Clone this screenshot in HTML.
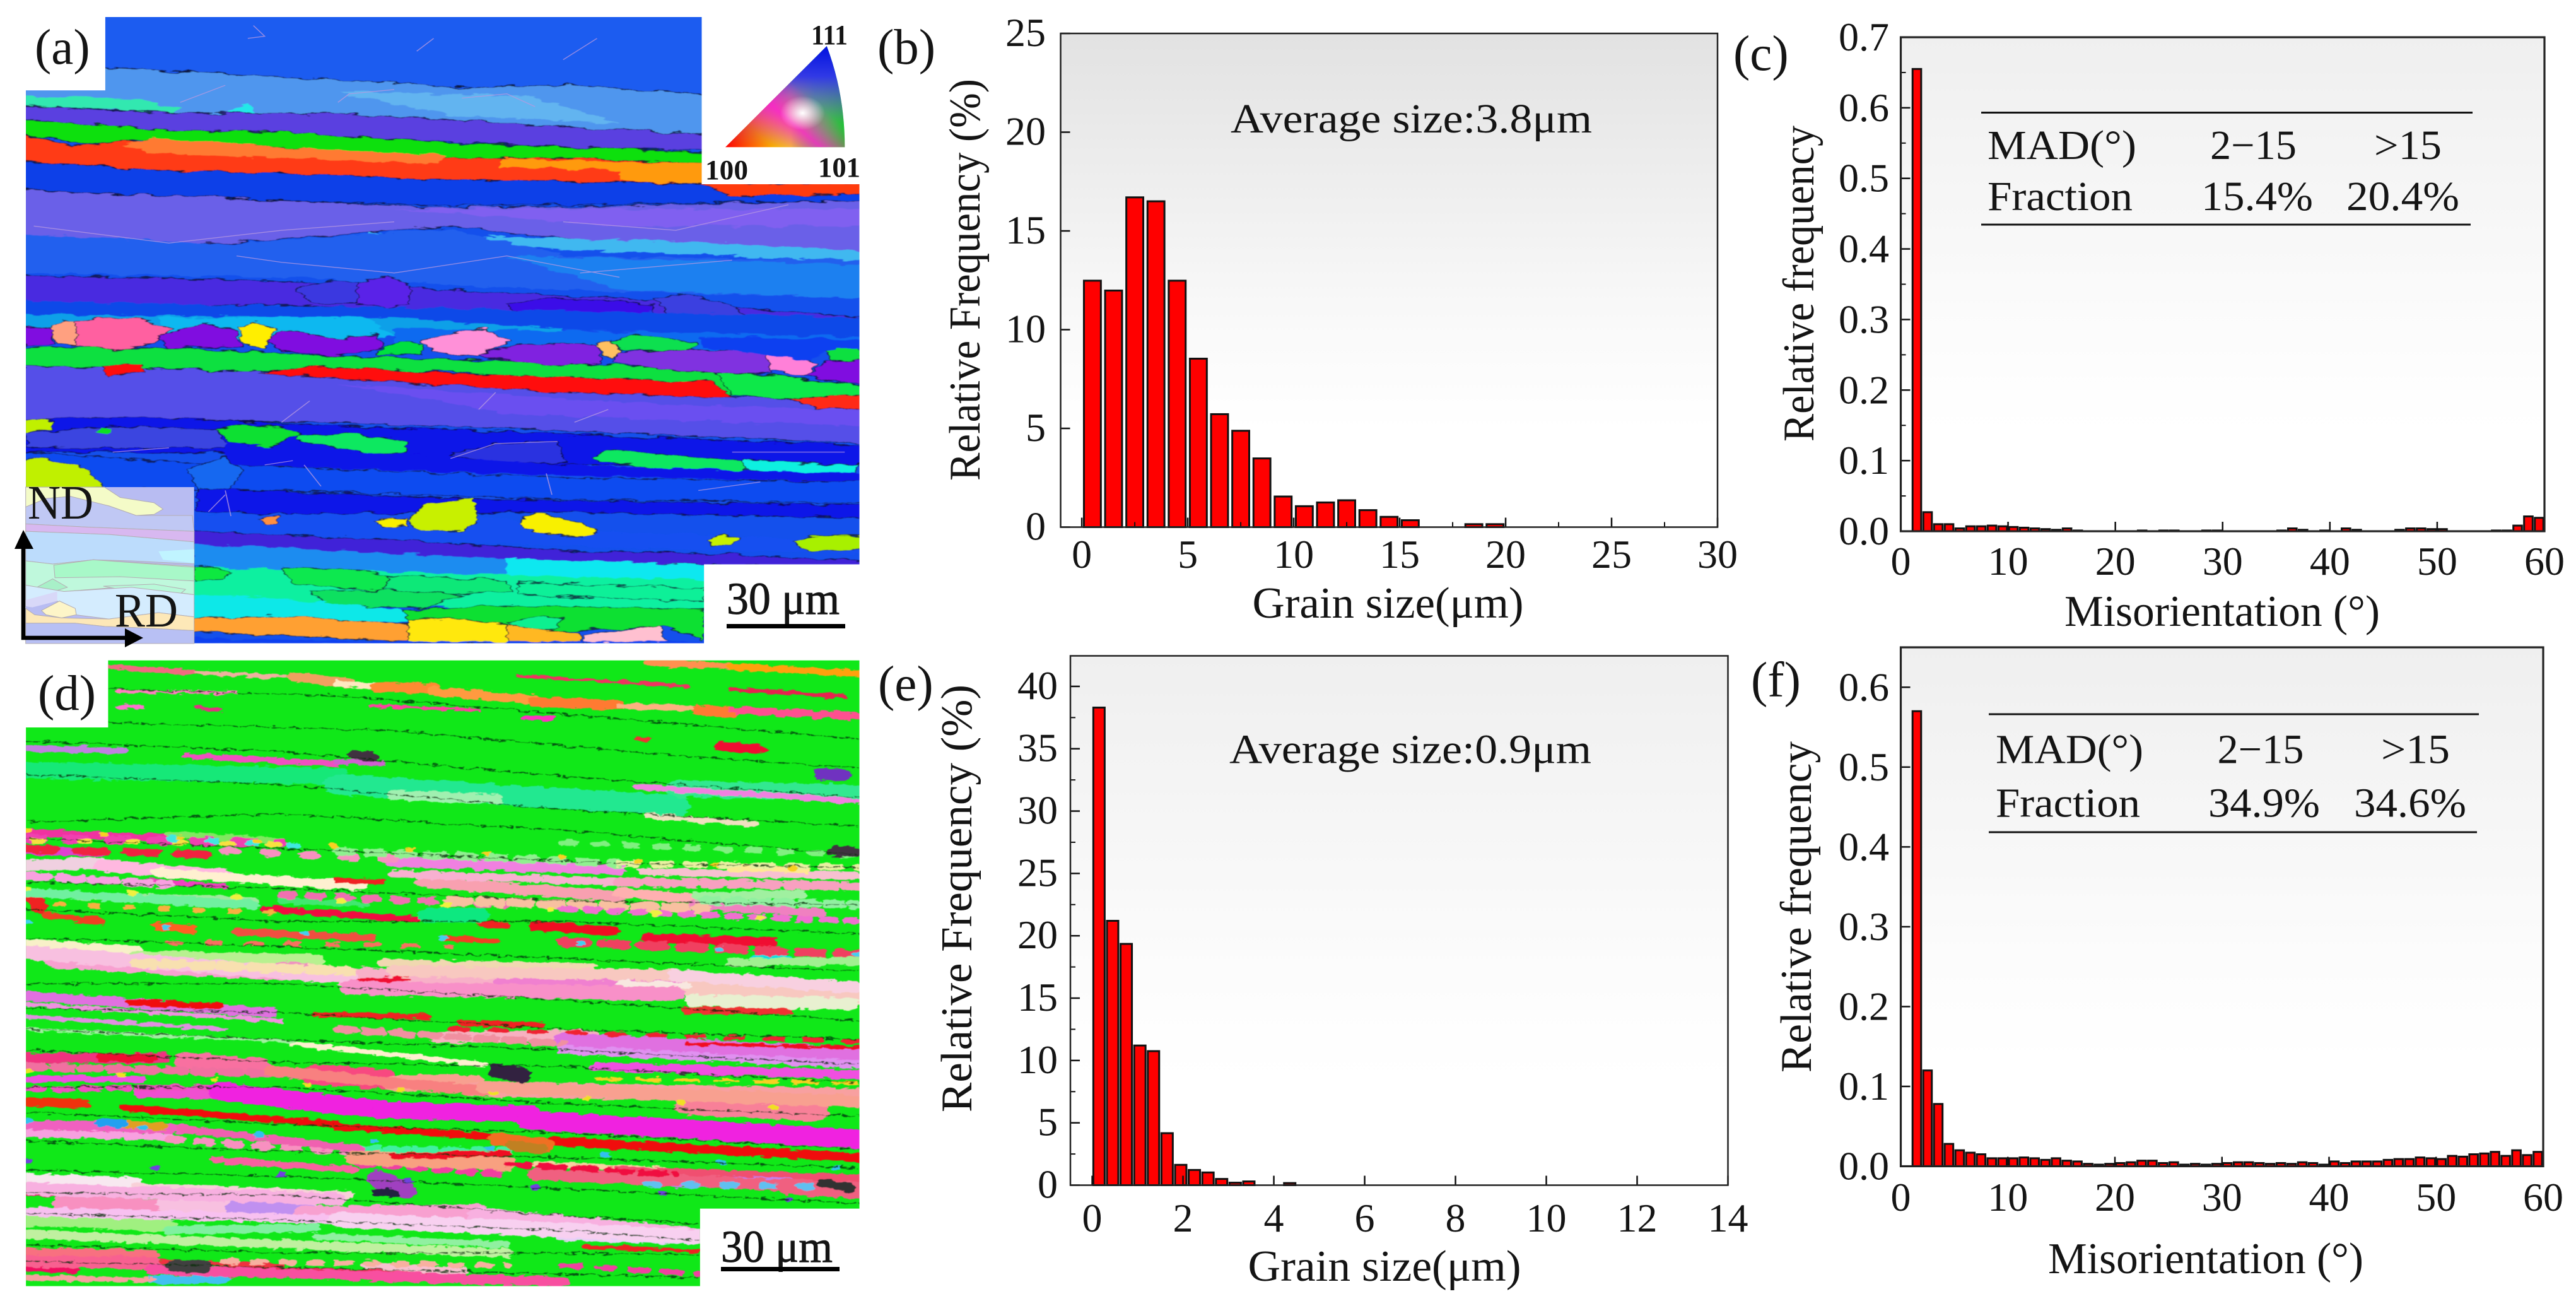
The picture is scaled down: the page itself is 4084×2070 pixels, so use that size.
<!DOCTYPE html>
<html lang="en">
<head>
<meta charset="utf-8">
<title>EBSD maps with grain size and misorientation histograms</title>
<style>
html,body{margin:0;padding:0;background:#fff;}
body{width:4084px;height:2070px;overflow:hidden;}
#figure{display:block;position:absolute;left:0;top:0;}
text{font-family:"Liberation Serif",serif;fill:#141414;}
.grains polygon{stroke:#0a1030;stroke-width:2;stroke-opacity:.75;}
.strips path{fill:none;stroke-linecap:round;}
.bounds path{fill:none;stroke:#06300a;stroke-width:2.4;stroke-opacity:.8;stroke-dasharray:26 3;}
.lowangle path{fill:none;stroke:#b89ae0;stroke-width:2;stroke-opacity:.75;}
.pale polygon{stroke:#b4aeb4;stroke-width:3;}
</style>
</head>
<body>
<svg id="figure" xmlns="http://www.w3.org/2000/svg" width="4084" height="2070" viewBox="0 0 4084 2070">
<defs>
<linearGradient id="bgB" x1="0" y1="0" x2="0" y2="1"><stop offset="0" stop-color="#e2e2e2"/><stop offset=".55" stop-color="#f8f8f8"/><stop offset=".8" stop-color="#fff"/></linearGradient>
<linearGradient id="bgC" x1="0" y1="0" x2="0" y2="1"><stop offset="0" stop-color="#efefef"/><stop offset=".6" stop-color="#fcfcfc"/><stop offset=".8" stop-color="#fff"/></linearGradient>
<linearGradient id="ipfBase" x1="0" y1="0" x2="1" y2="0"><stop offset="0" stop-color="#ff0000"/><stop offset=".3" stop-color="#ff8000"/><stop offset=".55" stop-color="#f0f000"/><stop offset=".75" stop-color="#40ee20"/><stop offset="1" stop-color="#00e000"/></linearGradient>
<linearGradient id="ipfBlue" x1="0" y1="0" x2="0" y2="1"><stop offset="0" stop-color="#0010e0"/><stop offset=".3" stop-color="#3030f0" stop-opacity=".95"/><stop offset=".75" stop-color="#a040ff" stop-opacity=".25"/><stop offset="1" stop-color="#40a0ff" stop-opacity="0"/></linearGradient>
<linearGradient id="ipfMagenta" x1="0" y1="1" x2="1" y2="0"><stop offset=".2" stop-color="#ff20c0" stop-opacity="0"/><stop offset=".4" stop-color="#ff20d0" stop-opacity=".85"/><stop offset=".6" stop-color="#ff20d0" stop-opacity="0"/></linearGradient>
<radialGradient id="ipfWhite" gradientUnits="userSpaceOnUse" cx="1425" cy="265" r="40"><stop offset="0" stop-color="#fff"/><stop offset="1" stop-color="#fff" stop-opacity="0"/></radialGradient>
<clipPath id="clipA"><polygon points="187,40 1246,40 1246,432 1526,432 1526,1323 1250,1323 1250,1508 46,1508 46,212 187,212"/></clipPath>
<clipPath id="clipD"><polygon points="192,10 1526,10 1526,1333 1243,1333 1243,1520 46,1520 46,172 192,172"/></clipPath>
<filter id="rough" x="-5%" y="-5%" width="110%" height="110%"><feTurbulence type="fractalNoise" baseFrequency="0.025 0.09" numOctaves="3" seed="7" result="n"/><feDisplacementMap in="SourceGraphic" in2="n" scale="16" xChannelSelector="R" yChannelSelector="G"/><feGaussianBlur stdDeviation="0.9"/></filter>
<filter id="roughD" x="-5%" y="-5%" width="110%" height="110%"><feTurbulence type="fractalNoise" baseFrequency="0.05 0.12" numOctaves="3" seed="11" result="n"/><feDisplacementMap in="SourceGraphic" in2="n" scale="14" xChannelSelector="R" yChannelSelector="G"/><feGaussianBlur stdDeviation="0.7"/></filter>
</defs>

<!-- Panel (a) IPF map -->
<svg x="0" y="0" width="1400" height="1060" viewBox="0 0 1568 1568" preserveAspectRatio="none">
<g clip-path="url(#clipA)">
<rect x="40" y="30" width="1500" height="1490" fill="#1450ec"/>
<g class="grains" filter="url(#rough)">
<polygon fill="#1a5cf0" points="150,30 1260,30 1260,222 1000,200 830,205 500,180 150,155"/>
<polygon fill="#4f96ee" points="40,210 150,155 500,180 830,205 1000,200 1260,222 1260,320 1090,310 600,270 300,265 40,245"/>
<polygon fill="#62b4f0" style="stroke:none" points="600,215 940,225 1100,290 800,270"/>
<polygon fill="#30e8b0" style="stroke:none" points="40,225 240,232 320,255 300,270 200,255 40,250"/>
<polygon fill="#20e8e8" style="stroke:none" points="405,262 440,242 460,272 420,272"/>
<polygon fill="#5a40e0" points="40,248 300,265 600,265 1090,305 1260,315 1260,352 1100,350 600,320 300,305 40,285"/>
<polygon fill="#10e010" points="40,282 150,290 300,305 500,310 800,335 1260,358 1260,385 1100,380 800,375 500,345 270,325 150,338 40,315"/>
<polygon fill="#ff3a18" points="40,315 130,345 220,330 500,345 800,372 1000,370 1260,385 1260,432 1000,425 750,420 500,405 280,400 130,385 40,378"/>
<polygon fill="#ff7a30" style="stroke:none" points="215,340 270,322 500,345 790,365 780,385 500,370 260,358"/>
<polygon fill="#ff9a10" style="stroke:none" points="890,372 1260,385 1260,432 1100,425 1100,400 890,390"/>
<polygon fill="#0e40e8" points="40,380 130,385 280,400 500,405 750,420 1000,425 1240,432 1540,432 1540,470 1000,480 750,480 500,470 40,445"/>
<polygon fill="#ff3a10" points="1240,430 1540,430 1540,455 1400,458 1300,458"/>
<polygon fill="#6a60e8" points="40,445 500,470 750,485 1000,485 1540,470 1540,610 1300,590 1000,560 800,530 400,570 40,570"/>
<polygon fill="#8060f0" style="stroke:none" points="700,490 1540,490 1540,530 1100,530"/>
<polygon fill="#40b8f0" style="stroke:none" points="650,545 1000,560 1300,570 1540,590 1540,615 1300,600 1000,585 650,565"/>
<polygon fill="#2060ee" style="stroke:none" points="40,550 400,572 800,535 1000,600 1540,610 1540,700 1000,680 500,650 40,640"/>
<polygon fill="#1a80f0" style="stroke:none" points="900,600 1540,620 1540,700 1100,680"/>
<polygon fill="#4a2ce0" points="40,645 520,660 1100,700 1540,745 1540,770 1100,745 500,715 40,715"/>
<polygon fill="#3a38e0" points="525,680 580,658 640,660 640,712 560,712"/>
<polygon fill="#5a20e8" points="635,660 690,648 730,670 725,715 690,722 635,712"/>
<polygon fill="#3a10e8" points="900,712 980,698 1160,712 1160,740 1060,745 910,725"/>
<polygon fill="#3a40e0" points="1160,700 1210,688 1290,710 1320,738 1260,758 1190,745"/>
<polygon fill="#0e48e8" style="stroke:none" points="40,705 400,715 900,725 1540,745 1540,790 900,770 40,745"/>
<polygon fill="#10a0e8" style="stroke:none" points="40,735 280,740 700,745 1000,770 1000,790 280,790 40,770"/>
<polygon fill="#10b8f0" style="stroke:none" points="280,745 650,742 700,790 500,800 300,790"/>
<polygon fill="#0f6af0" style="stroke:none" points="700,770 1200,780 1540,790 1540,825 1200,820 700,810"/>
<polygon fill="#10e040" points="40,815 300,815 600,835 1000,850 1300,870 1540,905 1540,925 1300,925 800,870 460,870 40,860"/>
<polygon fill="#5550e8" points="40,858 460,870 800,880 1300,930 1540,930 1540,1040 1000,1010 600,990 40,985"/>
<polygon fill="#6a50f0" style="stroke:none" points="600,900 1200,950 1540,960 1540,1000 900,970"/>
<polygon fill="#ff1010" points="460,875 560,858 800,875 1260,895 1305,932 1000,920 700,895"/>
<polygon fill="#ff1010" points="180,860 255,852 258,872 190,882"/>
<polygon fill="#ff2a18" points="1395,935 1430,920 1540,925 1540,960 1450,955"/>
<polygon fill="#10e848" points="1270,870 1400,885 1540,905 1540,925 1400,935 1300,925"/>
<polygon fill="#8010e0" points="40,765 95,770 95,805 40,810"/>
<polygon fill="#ffa080" points="90,770 115,750 140,750 140,810 100,805"/>
<polygon fill="#ff60a0" points="135,750 240,745 305,772 275,805 205,822 135,810"/>
<polygon fill="#8010e0" points="280,790 360,758 420,775 430,812 300,815"/>
<polygon fill="#ffee00" points="425,770 450,758 490,770 470,818 432,805"/>
<polygon fill="#8010e0" points="475,800 500,772 600,795 670,785 682,815 600,835 500,822"/>
<polygon fill="#00e040" points="670,825 710,800 750,805 750,830 670,832"/>
<polygon fill="#ff90d8" points="745,795 860,770 905,800 850,835 770,825"/>
<polygon fill="#8020e0" points="850,830 920,805 1060,808 1070,850 1000,858 860,840"/>
<polygon fill="#ffc060" points="1060,810 1085,798 1102,820 1088,840 1070,830"/>
<polygon fill="#10e050" points="1085,800 1120,782 1240,805 1225,825 1105,820"/>
<polygon fill="#8030e0" points="1095,825 1240,820 1360,825 1370,875 1200,870 1090,850"/>
<polygon fill="#ff80d8" points="1360,830 1420,835 1450,855 1430,882 1370,870"/>
<polygon fill="#8010e0" points="1430,880 1470,848 1540,838 1540,900 1490,895"/>
<polygon fill="#10e040" points="1470,820 1525,815 1530,842 1475,845"/>
<polygon fill="#1040f0" style="stroke:none" points="1240,790 1540,795 1540,820 1470,820 1440,845 1250,815"/>
<polygon fill="#0a12e8" points="40,990 100,980 280,980 600,998 1000,1018 1540,1045 1540,1090 1000,1090 400,1060 40,1060"/>
<polygon fill="#3a44e0" points="46,1015 180,1000 385,1005 405,1050 180,1050 46,1048"/>
<polygon fill="#c0f000" points="40,985 95,985 90,1005 40,1018"/>
<polygon fill="#10e030" points="382,1005 440,995 505,1000 532,1018 480,1048 410,1038"/>
<polygon fill="#10e860" points="530,1020 620,1015 720,1035 722,1060 650,1062 530,1030"/>
<polygon fill="#10e020" style="stroke:none" points="180,1000 200,1005 190,1018 172,1010"/>
<polygon fill="#2a30e0" points="800,1065 880,1040 990,1035 1005,1085 870,1085"/>
<polygon fill="#10e860" points="1055,1070 1080,1055 1320,1080 1320,1105 1215,1105 1060,1080"/>
<polygon fill="#10f0e0" points="1320,1075 1400,1085 1525,1090 1515,1112 1420,1110 1320,1100"/>
<polygon fill="#0e4cf0" points="40,1060 400,1090 1000,1120 1540,1130 1540,1180 1000,1170 500,1150 40,1145"/>
<polygon fill="#0a12e8" style="stroke:none" points="400,1040 1000,1090 1540,1110 1540,1130 1000,1115 400,1090"/>
<polygon fill="#0a14e8" points="350,1145 850,1170 1540,1185 1540,1215 1000,1200 500,1205 350,1200"/>
<polygon fill="#1450f0" style="stroke:none" points="350,1205 800,1205 1060,1245 1540,1270 1540,1300 1000,1280 350,1250"/>
<polygon fill="#1868f0" points="335,1100 400,1070 432,1105 405,1150 350,1145"/>
<polygon fill="#c0f000" points="40,1080 70,1072 150,1095 185,1145 40,1145"/>
<polygon fill="#c8f000" points="722,1220 760,1180 840,1168 850,1220 820,1245 750,1245"/>
<polygon fill="#f8f000" points="925,1215 950,1203 1030,1225 1058,1245 1040,1260 960,1250 930,1240"/>
<polygon fill="#c8f000" points="1255,1265 1285,1252 1315,1262 1295,1280 1265,1278"/>
<polygon fill="#a8f000" points="1410,1272 1440,1255 1540,1255 1540,1285 1440,1295"/>
<polygon fill="#ff9040" points="460,1215 495,1210 490,1228 470,1228"/>
<polygon fill="#f8f000" points="665,1220 720,1215 725,1233 680,1236"/>
<polygon fill="#4020d8" points="340,1245 700,1265 1000,1290 1300,1300 1540,1315 1540,1330 1300,1325 900,1315 600,1295 340,1280"/>
<polygon fill="#1a8cf0" style="stroke:none" points="340,1275 900,1310 1270,1330 1270,1370 340,1340"/>
<polygon fill="#10e8f0" style="stroke:none" points="900,1310 1270,1325 1270,1380 900,1360"/>
<polygon fill="#10f0a0" style="stroke:none" points="340,1330 1270,1360 1270,1450 340,1400"/>
<polygon fill="#10e840" points="346,1325 410,1340 395,1360 346,1362"/>
<polygon fill="#10e850" points="500,1330 620,1335 690,1350 680,1385 520,1370"/>
<polygon fill="#10e878" points="690,1350 900,1360 910,1385 750,1395 680,1380"/>
<polygon fill="#10f098" points="920,1365 1250,1380 1250,1410 920,1395"/>
<polygon fill="#10e060" points="550,1385 720,1385 820,1395 760,1425 580,1420"/>
<polygon fill="#10e8e8" style="stroke:none" points="340,1395 460,1400 720,1430 730,1460 340,1450"/>
<polygon fill="#10e030" points="715,1430 900,1420 1250,1430 1250,1500 1180,1470 1000,1480 730,1460"/>
<polygon fill="#10f090" points="900,1460 960,1445 1000,1450 985,1475 920,1475"/>
<polygon fill="#ffa030" points="340,1450 490,1445 730,1465 730,1505 500,1490 340,1480"/>
<polygon fill="#ffe810" points="725,1455 800,1450 900,1465 1030,1490 1030,1510 725,1510"/>
<polygon fill="#ffb820" points="900,1465 1030,1485 1030,1510 900,1510"/>
<polygon fill="#ffc0d0" points="1035,1490 1100,1478 1170,1470 1188,1510 1035,1510"/>
<polygon fill="#0e40f0" style="stroke:none" points="40,1490 730,1505 1250,1505 1250,1510 40,1510"/>
</g>
<g class="lowangle">
<path d="M450 60 470 85 440 90 M770 90 740 120 M1000 140 1060 90 M600 240 620 220 700 210 M320 240 400 200 M820 230 900 220 950 250 M60 530 300 570 500 540 700 520 M1000 520 1200 540 1400 480 M420 600 500 615 700 640 900 600 1100 650 M1030 640 1300 610 M500 990 550 940 M850 960 880 920 M1020 990 1080 960 M470 1090 520 1080 M540 1090 570 1140 M970 1110 980 1160 M200 1060 300 1050 M1240 1150 1350 1130 M800 1075 880 1040 990 1035 M400 1160 370 1200 M400 1150 410 1210 M1300 1060 1500 1060"/>
</g>
</g>
<g>
<path d="M1288 345 L1468 108 Q1500 220 1500 345 Z" fill="url(#ipfBase)"/>
<path d="M1288 345 L1468 108 Q1500 220 1500 345 Z" fill="url(#ipfBlue)"/>
<path d="M1288 345 L1468 108 Q1500 220 1500 345 Z" fill="url(#ipfMagenta)"/>
<path d="M1288 345 L1468 108 Q1500 220 1500 345 Z" fill="url(#ipfWhite)"/>
</g>
</svg>

<!-- Translucent key overlay, drawn as its washed-out appearance -->
<g class="pale" transform="translate(30 760) scale(.357 .335)">
<rect x="30" y="36" width="748" height="740" fill="#b8bcf2"/>
<polygon fill="#f4fbc8" points="30,36 380,36 450,85 600,110 640,140 600,165 520,170 400,125 280,100 230,80 120,90 30,130"/>
<polygon fill="#c0c8f4" points="30,130 120,90 230,80 400,125 520,170 770,170 778,245 300,225 30,210"/>
<polygon fill="#d8b8f0" points="30,210 300,225 778,245 778,295 400,260 30,245"/>
<polygon fill="#bcdcfc" points="30,245 400,260 778,295 778,400 500,385 330,380 150,400 30,385"/>
<polygon fill="#c0f4ff" style="stroke:none" points="620,340 778,330 778,395 640,380"/>
<polygon fill="#bff8dc" points="30,385 150,400 330,380 778,410 778,545 500,505 200,530 100,520 30,500"/>
<polygon fill="#a8f8c8" points="155,405 330,380 778,415 778,480 450,460 160,465"/>
<polygon fill="#a8f0c8" points="80,510 150,470 215,510 170,525 100,525"/>
<polygon fill="#b8f8d8" points="375,505 600,495 740,520 700,555 500,530"/>
<polygon fill="#d4ecfe" points="30,500 200,530 500,510 778,545 778,650 620,630 400,660 250,640 170,575 30,600"/>
<polygon fill="#d8d8f8" style="stroke:none" points="30,570 170,530 170,575 60,605 30,600"/>
<polygon fill="#fde8b8" points="30,610 70,640 190,655 400,660 620,630 778,650 778,715 500,700 380,695 250,680 30,680"/>
<polygon fill="#fdf5c8" points="100,620 180,575 250,610 255,640 190,655 120,640"/>
<polygon fill="#b8c0f4" points="30,680 250,680 380,695 500,700 778,715 778,776 30,776"/>
</g>

<text x="1286" y="70" font-size="44" font-weight="bold" textLength="58" lengthAdjust="spacingAndGlyphs">111</text>
<text x="1118" y="284" font-size="44" font-weight="bold" textLength="68" lengthAdjust="spacingAndGlyphs">100</text>
<text x="1297" y="280" font-size="44" font-weight="bold" textLength="67" lengthAdjust="spacingAndGlyphs">101</text>
<text x="55" y="101" font-size="79">(a)</text>
<text x="44" y="822" font-size="76" fill="#000" textLength="104" lengthAdjust="spacingAndGlyphs">ND</text>
<text x="182" y="993" font-size="76" fill="#000" textLength="100" lengthAdjust="spacingAndGlyphs">RD</text>
<g>
<path d="M37 868 V1011 H200 M34 1011 H37" fill="none" stroke="#000" stroke-width="6.5"/>
<polygon points="37,840 23,870 53,870" fill="#000"/>
<polygon points="227,1011 198,996 198,1026" fill="#000"/>
</g>
<text x="1152" y="973" font-size="72" stroke="#141414" stroke-width=".9" textLength="179" lengthAdjust="spacingAndGlyphs">30 μm</text>
<rect x="1152" y="989" width="188" height="7" fill="#000"/>

<!-- Panel (d) IPF map -->
<svg x="0" y="1040" width="1400" height="1030" viewBox="0 0 1568 1568" preserveAspectRatio="none">
<g clip-path="url(#clipD)">
<rect x="40" y="5" width="1500" height="1520" fill="#10e818"/>
<g filter="url(#roughD)">
<g class="strips">
<path stroke="#18e878" stroke-width="40" d="M46 275 600 290"/>
<path stroke="#20e890" stroke-width="50" d="M600 310 1200 360"/>
<path stroke="#30e890" stroke-width="40" d="M1200 320 1526 330"/>
<path stroke="#f06a80" stroke-width="12" d="M192 25 350 40"/>
<path stroke="#f0b0a0" stroke-width="10" d="M350 40 520 50"/>
<path stroke="#f0a060" stroke-width="22" d="M520 50 620 65"/>
<path stroke="#ffe8c0" stroke-width="16" d="M600 65 670 72"/>
<path stroke="#ff8a30" stroke-width="24" d="M670 75 770 78"/>
<path stroke="#ff9a40" stroke-width="22" d="M770 85 950 105"/>
<path stroke="#ff7a30" stroke-width="24" d="M950 110 1100 118"/>
<path stroke="#ffb080" stroke-width="14" d="M1100 120 1230 125"/>
<path stroke="#ff7a30" stroke-width="26" d="M1240 130 1300 135"/>
<path stroke="#ff5090" stroke-width="18" d="M1300 130 1526 145"/>
<path stroke="#ff9050" stroke-width="16" d="M1150 15 1300 25"/>
<path stroke="#ffa010" stroke-width="16" d="M1300 25 1526 42"/>
<path stroke="#f03060" stroke-width="8" d="M920 48 1220 72"/>
<path stroke="#e82050" stroke-width="10" d="M1300 80 1500 97"/>
<path stroke="#ff80c0" stroke-width="8" d="M210 85 420 88"/>
<path stroke="#ff40a0" stroke-width="8" d="M660 120 850 130"/>
<path stroke="#ff70d0" stroke-width="10" d="M210 122 250 122"/>
<path stroke="#e03080" stroke-width="10" d="M350 125 390 130"/>
<path stroke="#ff30c0" stroke-width="12" d="M930 150 980 150"/>
<path stroke="#f03030" stroke-width="12" d="M1130 200 1150 200"/>
<path stroke="#f01030" stroke-width="22" d="M1280 218 1350 225"/>
<path stroke="#7030c0" stroke-width="30" d="M1460 285 1495 288"/>
<path stroke="#c080e0" stroke-width="16" d="M46 222 220 228"/>
<path stroke="#f050c0" stroke-width="14" d="M330 240 600 260"/>
<path stroke="#d060d0" stroke-width="14" d="M600 255 680 258"/>
<path stroke="#f080e0" stroke-width="14" d="M1130 315 1526 350"/>
<path stroke="#a0f0b0" stroke-width="24" d="M700 335 880 345"/>
<path stroke="#f0e0c0" stroke-width="14" d="M1150 385 1340 405"/>
<path stroke="#f030a0" stroke-width="18" d="M46 425 300 440"/>
<path stroke="#80e860" stroke-width="16" d="M300 430 500 445"/>
<path stroke="#e040d0" stroke-width="18" d="M46 470 180 475"/>
<path stroke="#f0d0e0" stroke-width="28" d="M46 505 180 500"/>
<path stroke="#ffb8e0" stroke-width="30" d="M180 505 400 530"/>
<path stroke="#fff0d0" stroke-width="22" d="M280 522 640 555"/>
<path stroke="#f080e0" stroke-width="26" d="M700 495 1100 515"/>
<path stroke="#f8c0d0" stroke-width="18" d="M1140 520 1526 530"/>
<path stroke="#ffe890" stroke-width="18" d="M1300 510 1430 515"/>
<path stroke="#f02020" stroke-width="30" d="M55 575 70 605"/>
<path stroke="#f040c0" stroke-width="12" d="M250 540 400 555"/>
<path stroke="#f02020" stroke-width="12" d="M600 540 680 545"/>
<path stroke="#f8a0b0" stroke-width="26" d="M750 545 1100 580"/>
<path stroke="#ffb0b0" stroke-width="24" d="M1100 570 1230 585"/>
<path stroke="#f080c0" stroke-width="20" d="M1230 600 1460 620"/>
<path stroke="#f01040" stroke-width="16" d="M470 610 740 635"/>
<path stroke="#f04020" stroke-width="16" d="M80 625 180 640"/>
<path stroke="#ff6020" stroke-width="20" d="M280 650 340 660"/>
<path stroke="#f05040" stroke-width="18" d="M420 665 660 680"/>
<path stroke="#f02020" stroke-width="14" d="M850 645 900 650"/>
<path stroke="#f01020" stroke-width="22" d="M950 650 1090 665"/>
<path stroke="#f01030" stroke-width="22" d="M1150 680 1370 690"/>
<path stroke="#f04020" stroke-width="14" d="M790 680 880 688"/>
<path stroke="#10e880" stroke-width="36" d="M760 625 850 625"/>
<path stroke="#a0e8a0" stroke-width="20" d="M140 580 450 590"/>
<path stroke="#40e870" stroke-width="14" d="M500 590 650 600"/>
<path stroke="#a0f0a0" stroke-width="22" d="M1240 580 1420 575"/>
<path stroke="#f8f0c8" stroke-width="24" d="M46 695 240 710"/>
<path stroke="#f8a0d0" stroke-width="46" d="M100 730 500 760"/>
<path stroke="#b8f090" stroke-width="30" d="M240 725 560 735"/>
<path stroke="#f090c0" stroke-width="30" d="M500 750 620 770"/>
<path stroke="#f8b0c8" stroke-width="50" d="M620 775 900 790"/>
<path stroke="#f0d8b0" stroke-width="18" d="M680 740 1050 750"/>
<path stroke="#f080d0" stroke-width="50" d="M900 790 1230 790"/>
<path stroke="#f8c8c0" stroke-width="46" d="M1230 800 1526 820"/>
<path stroke="#f03030" stroke-width="18" d="M1220 855 1400 855"/>
<path stroke="#f8e8e0" stroke-width="16" d="M1100 790 1220 795"/>
<path stroke="#10e0e0" stroke-width="22" d="M1340 730 1395 732"/>
<path stroke="#f01030" stroke-width="14" d="M620 790 720 778"/>
<path stroke="#e070e0" stroke-width="24" d="M46 820 480 860"/>
<path stroke="#f01010" stroke-width="16" d="M230 835 390 845"/>
<path stroke="#e090e0" stroke-width="10" d="M46 870 400 900"/>
<path stroke="#f02020" stroke-width="12" d="M560 865 760 870"/>
<path stroke="#f02020" stroke-width="14" d="M820 885 960 890"/>
<path stroke="#f8b0c0" stroke-width="28" d="M780 920 1050 915"/>
<path stroke="#e070e0" stroke-width="34" d="M1000 925 1526 960"/>
<path stroke="#f01020" stroke-width="8" d="M1220 935 1526 945"/>
<path stroke="#fff0d0" stroke-width="12" d="M520 935 860 985"/>
<path stroke="#f03080" stroke-width="24" d="M46 970 290 970"/>
<path stroke="#f01030" stroke-width="20" d="M180 968 270 970"/>
<path stroke="#f870a0" stroke-width="40" d="M330 975 460 990"/>
<path stroke="#f84880" stroke-width="50" d="M560 1010 680 1020"/>
<path stroke="#f8a090" stroke-width="40" d="M700 1030 840 1030"/>
<path stroke="#f050e0" stroke-width="16" d="M46 1020 250 1020"/>
<path stroke="#f050d0" stroke-width="30" d="M250 1050 390 1055"/>
<path stroke="#f050e0" stroke-width="22" d="M1060 990 1526 1010"/>
<path stroke="#f8a0a0" stroke-width="36" d="M840 1045 1526 1060"/>
<path stroke="#f88098" stroke-width="44" d="M1220 1085 1450 1100"/>
</g>
<g class="strips">
<path stroke="#f040b0" stroke-width="22" stroke-dasharray="30 45" d="M46 440 500 450"/>
<path stroke="#f8e040" stroke-width="14" stroke-dasharray="14 70" d="M60 445 500 455"/>
<path stroke="#40e8e0" stroke-width="14" stroke-dasharray="12 60" d="M300 440 560 460"/>
<path stroke="#f02040" stroke-width="20" stroke-dasharray="50 40" d="M46 465 400 480"/>
<path stroke="#f890c0" stroke-width="18" stroke-dasharray="20 50" d="M400 470 700 490"/>
<path stroke="#90f090" stroke-width="20" stroke-dasharray="24 30" d="M600 470 1100 500"/>
<path stroke="#80f080" stroke-width="14" stroke-dasharray="20 35" d="M1000 450 1526 480"/>
<path stroke="#f8a0e0" stroke-width="20" stroke-dasharray="40 20" d="M46 530 300 550"/>
<path stroke="#f8b0d0" stroke-width="20" stroke-dasharray="30 15" d="M700 525 1100 545"/>
<path stroke="#e8f0a0" stroke-width="16" stroke-dasharray="30 30" d="M1100 500 1526 510"/>
<path stroke="#f8a0c0" stroke-width="22" stroke-dasharray="32 18" d="M1100 545 1526 555"/>
<path stroke="#70f0a0" stroke-width="22" stroke-dasharray="30 14" d="M46 570 450 600"/>
<path stroke="#f8b040" stroke-width="12" stroke-dasharray="12 50" d="M100 600 500 620"/>
<path stroke="#f070b0" stroke-width="18" stroke-dasharray="20 30" d="M500 575 900 600"/>
<path stroke="#f8c0a0" stroke-width="24" stroke-dasharray="30 25" d="M800 590 1250 610"/>
<path stroke="#f070d0" stroke-width="16" stroke-dasharray="18 24" d="M1000 610 1526 640"/>
<path stroke="#90f0a0" stroke-width="20" stroke-dasharray="24 20" d="M1250 590 1526 600"/>
<path stroke="#f04060" stroke-width="22" stroke-dasharray="40 30" d="M1000 690 1526 720"/>
<path stroke="#f87060" stroke-width="12" stroke-dasharray="20 50" d="M300 690 800 700"/>
<path stroke="#a0f090" stroke-width="20" stroke-dasharray="20 15" d="M1300 740 1526 735"/>
<path stroke="#f8c0e0" stroke-width="34" stroke-dasharray="45 8" d="M46 715 620 775"/>
<path stroke="#f8e0b0" stroke-width="24" stroke-dasharray="30 22" d="M240 740 620 760"/>
<path stroke="#f890c8" stroke-width="34" stroke-dasharray="40 10" d="M620 800 1200 815"/>
<path stroke="#f8c8c0" stroke-width="28" stroke-dasharray="32 16" d="M700 760 1200 770"/>
<path stroke="#f8d0e0" stroke-width="28" stroke-dasharray="28 14" d="M1200 770 1526 800"/>
<path stroke="#e8f0d0" stroke-width="30" stroke-dasharray="30 20" d="M1230 830 1526 840"/>
<path stroke="#f090e0" stroke-width="10" d="M46 840 500 880"/>
<path stroke="#f090a0" stroke-width="18" stroke-dasharray="30 20" d="M600 900 1000 935"/>
<path stroke="#a0f0a0" stroke-width="8" d="M46 900 520 930"/>
<path stroke="#f02030" stroke-width="10" stroke-dasharray="30 40" d="M800 900 1526 930"/>
<path stroke="#e090f0" stroke-width="20" stroke-dasharray="30 10" d="M1000 950 1526 985"/>
<path stroke="#f070a0" stroke-width="20" stroke-dasharray="30 20" d="M46 990 560 1010"/>
<path stroke="#f88080" stroke-width="26" stroke-dasharray="36 14" d="M480 1000 860 1050"/>
<path stroke="#f8a090" stroke-width="30" stroke-dasharray="40 8" d="M860 1040 1526 1075"/>
<path stroke="#f050c0" stroke-width="14" stroke-dasharray="30 20" d="M46 1045 400 1040"/>
<path stroke="#f8d020" stroke-width="8" stroke-dasharray="40 30" d="M1060 1020 1526 1030"/>
<path stroke="#f8a0e0" stroke-width="20" stroke-dasharray="22 14" d="M46 1150 300 1160"/>
<path stroke="#f890c0" stroke-width="18" stroke-dasharray="22 30" d="M300 1165 650 1200"/>
<path stroke="#40f0a0" stroke-width="20" stroke-dasharray="30 20" d="M640 1190 900 1195"/>
<path stroke="#f040a0" stroke-width="18" stroke-dasharray="20 25" d="M640 1225 900 1250"/>
</g>
<g class="strips">
<path stroke="#f020e0" stroke-width="44" d="M390 1050 680 1095"/>
<path stroke="#f020e0" stroke-width="40" d="M680 1095 940 1105"/>
<path stroke="#f020e0" stroke-width="46" d="M940 1120 1526 1165"/>
<path stroke="#f01010" stroke-width="16" d="M220 1090 600 1130"/>
<path stroke="#f01010" stroke-width="16" d="M600 1135 880 1160"/>
<path stroke="#f01010" stroke-width="22" d="M980 1170 1526 1210"/>
<path stroke="#f03010" stroke-width="22" d="M46 1075 150 1080"/>
<path stroke="#f060c0" stroke-width="24" d="M46 1130 320 1140"/>
<path stroke="#e0a020" stroke-width="20" d="M220 1130 290 1135"/>
<path stroke="#20a0f0" stroke-width="20" d="M180 1125 215 1128"/>
<path stroke="#f060b0" stroke-width="18" d="M320 1140 640 1190"/>
<path stroke="#f8a080" stroke-width="34" d="M630 1210 900 1225"/>
<path stroke="#f07020" stroke-width="30" d="M880 1165 970 1180"/>
<path stroke="#f01020" stroke-width="14" d="M700 1205 900 1200"/>
<path stroke="#f8d0a0" stroke-width="14" d="M950 1225 1180 1240"/>
<path stroke="#f05070" stroke-width="28" d="M1100 1245 1526 1265"/>
<path stroke="#c080f0" stroke-width="26" d="M1200 1270 1400 1270"/>
<path stroke="#a040c0" stroke-width="40" d="M670 1260 720 1290"/>
<path stroke="#f06080" stroke-width="40" d="M1400 1280 1526 1290"/>
<path stroke="#f860a0" stroke-width="16" d="M380 1215 630 1240"/>
<path stroke="#f06080" stroke-width="28" stroke-dasharray="26 12" d="M950 1250 1526 1285"/>
<path stroke="#60c0f0" stroke-width="16" stroke-dasharray="18 50" d="M1150 1275 1500 1280"/>
<path stroke="#f01040" stroke-width="14" stroke-dasharray="40 20" d="M900 1225 1200 1250"/>
<path stroke="#f8e8f0" stroke-width="24" d="M46 1260 240 1270"/>
<path stroke="#f8d0d8" stroke-width="18" d="M240 1280 620 1300"/>
<path stroke="#f02080" stroke-width="10" d="M46 1298 300 1300"/>
<path stroke="#f890c0" stroke-width="36" d="M110 1320 300 1330"/>
<path stroke="#f8c0e0" stroke-width="44" d="M300 1320 540 1330"/>
<path stroke="#c090f0" stroke-width="40" d="M420 1335 540 1335"/>
<path stroke="#f8a0d0" stroke-width="36" d="M540 1345 850 1340"/>
<path stroke="#f8b0e0" stroke-width="40" d="M850 1350 1240 1400"/>
<path stroke="#e8d0f8" stroke-width="30" d="M1000 1395 1240 1405"/>
<path stroke="#a0f080" stroke-width="30" d="M46 1360 300 1375"/>
<path stroke="#80f0a0" stroke-width="20" d="M300 1385 560 1380"/>
<path stroke="#90f0a0" stroke-width="16" d="M560 1400 900 1420"/>
<path stroke="#f87080" stroke-width="24" d="M46 1440 270 1445"/>
<path stroke="#f03040" stroke-width="10" d="M270 1460 500 1470"/>
<path stroke="#f03060" stroke-width="18" d="M390 1480 800 1495"/>
<path stroke="#f01060" stroke-width="20" d="M46 1475 130 1480"/>
<path stroke="#f03020" stroke-width="14" d="M800 1500 1000 1505"/>
<path stroke="#f8c0d0" stroke-width="18" d="M650 1470 820 1485"/>
<path stroke="#40c0f0" stroke-width="20" d="M270 1505 400 1505"/>
<path stroke="#f02020" stroke-width="10" d="M1040 1425 1240 1435"/>
<path stroke="#f8c0f0" stroke-width="22" stroke-dasharray="40 10" d="M46 1340 600 1360"/>
<path stroke="#f8b0e0" stroke-width="30" stroke-dasharray="50 6" d="M46 1285 600 1310"/>
<path stroke="#f8d0f0" stroke-width="36" stroke-dasharray="40 8" d="M600 1360 1240 1400"/>
<path stroke="#c0f0a0" stroke-width="22" stroke-dasharray="30 16" d="M46 1395 900 1440"/>
<path stroke="#f86090" stroke-width="30" stroke-dasharray="24 10" d="M46 1460 270 1465"/>
<path stroke="#f850a0" stroke-width="24" stroke-dasharray="24 14" d="M270 1480 1000 1510"/>
<path stroke="#f8b0a0" stroke-width="14" stroke-dasharray="20 30" d="M400 1460 900 1470"/>
<path stroke="#f040a0" stroke-width="14" stroke-dasharray="30 30" d="M1000 1470 1240 1490"/>
<path stroke="#f8a0a0" stroke-width="14" stroke-dasharray="20 12" d="M46 1500 270 1505"/>
</g>
<g class="strips">
<path stroke="#f0f040" stroke-width="12" stroke-dasharray="6 180" d="M46 560 1526 640"/>
<path stroke="#40d0f0" stroke-width="10" stroke-dasharray="6 240" d="M46 640 1526 720"/>
<path stroke="#30c0f0" stroke-width="12" stroke-dasharray="6 200" d="M46 1120 1526 1240"/>
<path stroke="#f0e020" stroke-width="10" stroke-dasharray="6 160" d="M46 1000 1526 1100"/>
<path stroke="#7040e0" stroke-width="12" stroke-dasharray="6 220" d="M46 1220 1526 1320"/>
<path stroke="#f8d020" stroke-width="10" stroke-dasharray="6 130" d="M46 420 1526 520"/>
</g>
<g class="strips">
<path stroke="#302040" stroke-width="36" d="M885 1000 925 1012"/>
<path stroke="#404040" stroke-width="30" d="M310 1472 360 1472"/>
<path stroke="#403040" stroke-width="22" d="M630 238 660 242"/>
<path stroke="#403040" stroke-width="24" d="M1480 470 1520 472"/>
<path stroke="#303030" stroke-width="20" d="M1460 1270 1510 1285"/>
<path stroke="#202040" stroke-width="20" d="M670 1295 700 1295"/>
<path stroke="#c08020" stroke-width="24" d="M910 1180 960 1190"/>
</g>
<g class="bounds">
<path d="M192 80 600 95 1000 140 1526 200"/>
<path d="M192 160 700 180 1200 240 1526 270"/>
<path d="M46 205 500 230 1000 290 1526 340"/>
<path d="M46 285 500 310 1000 370 1526 410"/>
<path d="M46 400 500 380 1000 420 1526 480"/>
<path d="M46 440 600 470 1100 500 1526 510"/>
<path d="M46 545 500 560 1000 590 1526 600"/>
<path d="M46 610 500 640 1000 640 1526 670"/>
<path d="M46 680 500 700 1000 730 1526 760"/>
<path d="M46 790 500 790 1000 830 1526 880"/>
<path d="M46 850 500 860 1000 900 1526 925"/>
<path d="M46 900 500 925 1000 950 1526 985"/>
<path d="M46 950 500 980 1000 990 1526 1030"/>
<path d="M46 1040 500 1040 1000 1080 1526 1110"/>
<path d="M46 1100 500 1130 1000 1150 1526 1190"/>
<path d="M46 1170 500 1195 1000 1210 1526 1235"/>
<path d="M46 1240 500 1255 1000 1285 1526 1320"/>
<path d="M46 1295 500 1300 1000 1350 1240 1370"/>
<path d="M46 1345 500 1360 1000 1385 1240 1410"/>
<path d="M46 1420 500 1440 1000 1440 1240 1445"/>
<path d="M46 1460 500 1475 1000 1490 1240 1500"/>
</g>
</g>
</g>
</svg>
<text x="60" y="1125" font-size="79">(d)</text>
<text x="1143" y="2000" font-size="72" stroke="#141414" stroke-width=".9" textLength="177" lengthAdjust="spacingAndGlyphs">30 μm</text>
<rect x="1143" y="2008" width="188" height="7" fill="#000"/>

<!-- Panel labels for charts -->
<text x="1391" y="101" font-size="79">(b)</text>
<text x="2748" y="111" font-size="79">(c)</text>
<text x="1392" y="1110" font-size="79">(e)</text>
<text x="2776" y="1104" font-size="79">(f)</text>

<!-- Chart (b) -->
<g>
<rect x="1681.5" y="53" width="1041.5" height="782.5" fill="url(#bgB)"/>
<g id="chartB"></g>
<text transform="rotate(-90 1553 443.5)" x="1553" y="443.5" font-size="70" text-anchor="middle" textLength="637" lengthAdjust="spacingAndGlyphs">Relative Frequency (%)</text>
<text x="1985.5" y="979" font-size="70" textLength="430" lengthAdjust="spacingAndGlyphs">Grain size(μm)</text>
<text x="1951" y="210" font-size="66" textLength="573" lengthAdjust="spacingAndGlyphs">Average size:3.8μm</text>
</g>

<!-- Chart (c) -->
<g>
<rect x="3013.5" y="59" width="1020.5" height="783" fill="url(#bgC)"/>
<g id="chartC"></g>
<text transform="rotate(-90 2875 449.5)" x="2875" y="449.5" font-size="70" text-anchor="middle" textLength="501" lengthAdjust="spacingAndGlyphs">Relative frequency</text>
<text x="3273" y="992" font-size="70" textLength="500" lengthAdjust="spacingAndGlyphs">Misorientation (°)</text>
<g>
<line x1="3141" x2="3920" y1="178.5" y2="178.5" stroke="#111" stroke-width="3"/>
<line x1="3141" x2="3917" y1="356" y2="356" stroke="#111" stroke-width="3"/>
<text x="3151" y="252" font-size="66" textLength="236" lengthAdjust="spacingAndGlyphs">MAD(°)</text>
<text x="3504" y="252" font-size="66" textLength="137" lengthAdjust="spacingAndGlyphs">2−15</text>
<text x="3764" y="252" font-size="66" textLength="107" lengthAdjust="spacingAndGlyphs">&gt;15</text>
<text x="3151" y="333" font-size="66" textLength="230" lengthAdjust="spacingAndGlyphs">Fraction</text>
<text x="3490" y="333" font-size="66" textLength="177" lengthAdjust="spacingAndGlyphs">15.4%</text>
<text x="3720" y="333" font-size="66" textLength="179" lengthAdjust="spacingAndGlyphs">20.4%</text>
</g>
</g>

<!-- Chart (e) -->
<g>
<rect x="1697" y="1039.5" width="1042.5" height="839" fill="url(#bgC)"/>
<g id="chartE"></g>
<text transform="rotate(-90 1540 1424)" x="1540" y="1424" font-size="70" text-anchor="middle" textLength="678" lengthAdjust="spacingAndGlyphs">Relative Frequency (%)</text>
<text x="1978.5" y="2030" font-size="70" textLength="433" lengthAdjust="spacingAndGlyphs">Grain size(μm)</text>
<text x="1949" y="1209.5" font-size="66" textLength="574" lengthAdjust="spacingAndGlyphs">Average size:0.9μm</text>
</g>

<!-- Chart (f) -->
<g>
<rect x="3013.5" y="1026" width="1018.5" height="822.5" fill="url(#bgC)"/>
<g id="chartF"></g>
<text transform="rotate(-90 2871 1437.5)" x="2871" y="1437.5" font-size="70" text-anchor="middle" textLength="525" lengthAdjust="spacingAndGlyphs">Relative frequency</text>
<text x="3247" y="2018" font-size="70" textLength="500" lengthAdjust="spacingAndGlyphs">Misorientation (°)</text>
<g>
<line x1="3153" x2="3930" y1="1132" y2="1132" stroke="#111" stroke-width="3"/>
<line x1="3153" x2="3927" y1="1319" y2="1319" stroke="#111" stroke-width="3"/>
<text x="3164" y="1209.5" font-size="66" textLength="234" lengthAdjust="spacingAndGlyphs">MAD(°)</text>
<text x="3515.5" y="1209.5" font-size="66" textLength="137" lengthAdjust="spacingAndGlyphs">2−15</text>
<text x="3775" y="1209.5" font-size="66" textLength="109" lengthAdjust="spacingAndGlyphs">&gt;15</text>
<text x="3164" y="1294.5" font-size="66" textLength="229" lengthAdjust="spacingAndGlyphs">Fraction</text>
<text x="3501" y="1294.5" font-size="66" textLength="177" lengthAdjust="spacingAndGlyphs">34.9%</text>
<text x="3732" y="1294.5" font-size="66" textLength="178" lengthAdjust="spacingAndGlyphs">34.6%</text>
</g>
</g>
</svg>

<script>
// Chart (b): grain size histogram
const bCategories = [0.5,1.5,2.5,3.5,4.5,5.5,6.5,7.5,8.5,9.5,10.5,11.5,12.5,13.5,14.5,15.5,18.5,19.5];
const bValues = [12.48,11.98,16.7,16.5,12.48,8.53,5.72,4.88,3.48,1.55,1.06,1.25,1.36,0.86,0.52,0.35,0.15,0.15];
const bXTickLabels = ['0','5','10','15','20','25','30'];
const bYTickLabels = ['0','5','10','15','20','25'];
const bXMinor = [2.5,7.5,12.5,17.5,22.5,27.5];
const bYMinor = [];

// Chart (c): misorientation histogram
const cCategories = [1.5,2.5,3.5,4.5,5.5,6.5,7.5,8.5,9.5,10.5,11.5,12.5,13.5,14.5,15.5,16.5,22.5,24.5,25.5,28.5,29.5,35.5,36.5,37.5,39.5,41.5,42.5,46.5,47.5,48.5,49.5,50.5,55.5,56.5,57.5,58.5,59.5];
const cValues = [0.655,0.027,0.01,0.01,0.004,0.007,0.007,0.008,0.007,0.006,0.005,0.004,0.003,0.002,0.004,0.001,0.001,0.001,0.001,0.001,0.001,0.001,0.004,0.002,0.001,0.004,0.002,0.002,0.004,0.004,0.003,0.003,0.001,0.001,0.008,0.021,0.019];
const cXTickLabels = ['0','10','20','30','40','50','60'];
const cYTickLabels = ['0.0','0.1','0.2','0.3','0.4','0.5','0.6','0.7'];
const cXMinor = [];
const cYMinor = [0.05,0.15,0.25,0.35,0.45,0.55,0.65];

// Chart (e): grain size histogram
const eCategories = [0.15,0.45,0.75,1.05,1.35,1.65,1.95,2.25,2.55,2.85,3.15,3.45,4.35];
const eValues = [38.3,21.2,19.35,11.2,10.75,4.17,1.63,1.22,1.02,0.5,0.2,0.3,0.17];
const eXTickLabels = ['0','2','4','6','8','10','12','14'];
const eYTickLabels = ['0','5','10','15','20','25','30','35','40'];
const eXMinor = [];
const eYMinor = [2.5,7.5,12.5,17.5,22.5,27.5,32.5,37.5];

// Chart (f): misorientation histogram
const fCategories = [1.5,2.5,3.5,4.5,5.5,6.5,7.5,8.5,9.5,10.5,11.5,12.5,13.5,14.5,15.5,16.5,17.5,18.5,19.5,20.5,21.5,22.5,23.5,24.5,25.5,26.5,27.5,28.5,29.5,30.5,31.5,32.5,33.5,34.5,35.5,36.5,37.5,38.5,39.5,40.5,41.5,42.5,43.5,44.5,45.5,46.5,47.5,48.5,49.5,50.5,51.5,52.5,53.5,54.5,55.5,56.5,57.5,58.5,59.5];
const fValues = [0.57,0.12,0.078,0.028,0.02,0.017,0.015,0.01,0.01,0.01,0.011,0.01,0.008,0.01,0.007,0.006,0.003,0.002,0.003,0.004,0.005,0.007,0.007,0.004,0.005,0.002,0.003,0.002,0.003,0.004,0.005,0.005,0.004,0.003,0.004,0.003,0.005,0.004,0.002,0.006,0.004,0.006,0.006,0.006,0.008,0.009,0.009,0.011,0.01,0.009,0.013,0.012,0.015,0.016,0.018,0.013,0.02,0.014,0.018];
const fXTickLabels = ['0','10','20','30','40','50','60'];
const fYTickLabels = ['0.0','0.1','0.2','0.3','0.4','0.5','0.6'];
const fXMinor = [];
const fYMinor = [];

const SVGNS = 'http://www.w3.org/2000/svg';

function make(tag, attrs, parent) {
  const el = document.createElementNS(SVGNS, tag);
  for (const k in attrs) el.setAttribute(k, attrs[k]);
  parent.appendChild(el);
  return el;
}

function drawChart(hostId, l, r, t, b, xMin, xMax, yMin, yMax, barWidth, cats, vals, xLabels, yLabels, xMinor, yMinor, xLabelY, yLabelX, yLabelDy, fontSize, frameW) {
  const host = document.getElementById(hostId);
  const sx = v => l + (v - xMin) / (xMax - xMin) * (r - l);
  const sy = v => b - (v - yMin) / (yMax - yMin) * (b - t);

  const unit = (r - l) / (xMax - xMin);
  vals.forEach((v, i) => {
    const top = sy(v);
    const el = make('rect', {x: sx(cats[i]) - barWidth * unit / 2, y: top, width: barWidth * unit, height: b - top, fill: '#ff0000', stroke: '#111', 'stroke-width': 3}, host);
    
    
  });

  xLabels.forEach(lab => {
    const v = Number(lab);
    const tick = make('line', {x1: sx(v), x2: sx(v), y1: b, y2: b - 15, stroke: '#111', 'stroke-width': 2.5}, host);
    
    
    const txt = make('text', {x: sx(v), y: xLabelY, 'font-size': fontSize, 'text-anchor': 'middle'}, host);
    txt.textContent = lab;
    
    
  });

  xMinor.forEach(v => {
    const tick = make('line', {x1: sx(v), x2: sx(v), y1: b, y2: b - 8, stroke: '#111', 'stroke-width': 2}, host);
    
    
  });

  yLabels.forEach(lab => {
    const v = Number(lab);
    const tick = make('line', {x1: l, x2: l + 15, y1: sy(v), y2: sy(v), stroke: '#111', 'stroke-width': 2.5}, host);
    
    
    const txt = make('text', {x: yLabelX, y: sy(v) + yLabelDy, 'font-size': fontSize, 'text-anchor': 'end'}, host);
    txt.textContent = lab;
    
    
  });

  yMinor.forEach(v => {
    const tick = make('line', {x1: l, x2: l + 8, y1: sy(v), y2: sy(v), stroke: '#111', 'stroke-width': 2}, host);
    
    
  });

  const frame = make('rect', {x: l, y: t, width: r - l, height: b - t, fill: 'none', stroke: '#222', 'stroke-width': frameW}, host);
  
  
}

drawChart('chartB', 1681.5, 2723, 53, 835.5, -1, 30, 0, 25, 0.8, bCategories, bValues, bXTickLabels, bYTickLabels, bXMinor, bYMinor, 900, 1658, 20, 64, 2.5);
drawChart('chartC', 3013.5, 4034, 59, 842, 0, 60, 0, 0.7, 0.8, cCategories, cValues, cXTickLabels, cYTickLabels, cXMinor, cYMinor, 911, 2995, 21, 64, 3.2);
drawChart('chartE', 1697, 2739.5, 1039.5, 1878.5, -0.48, 14, 0, 42.45, 0.25, eCategories, eValues, eXTickLabels, eYTickLabels, eXMinor, eYMinor, 1952, 1677, 20, 64, 2.5);
drawChart('chartF', 3013.5, 4032, 1026, 1848.5, 0, 60, 0, 0.65, 0.8, fCategories, fValues, fXTickLabels, fYTickLabels, fXMinor, fYMinor, 1919, 2995, 21, 64, 3.2);
</script>
</body>
</html>
